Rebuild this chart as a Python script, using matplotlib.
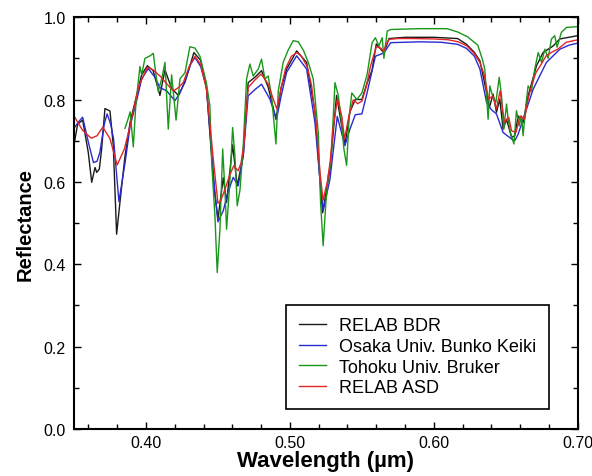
"Reflectance spectra comparison plot"

import matplotlib

matplotlib.use("Agg")
import matplotlib.pyplot as plt
from matplotlib.ticker import MultipleLocator, FormatStrFormatter

#####
# Data
#####

labels = ["RELAB BDR", "Osaka Univ. Bunko Keiki", "Tohoku Univ. Bruker", "RELAB ASD"]
colors = ["#1a1a1a", "#2a2ad0", "#1a961a", "#e02626"]

# RELAB BDR
wl_bdr = [
    0.350, 0.3525, 0.356, 0.3599, 0.3623, 0.3646, 0.3658, 0.3676, 0.3692, 0.3715,
    0.375, 0.3773, 0.3796, 0.3819, 0.3854, 0.389, 0.3935, 0.397, 0.401, 0.405,
    0.4097, 0.4132, 0.4178, 0.4225, 0.4271, 0.4333, 0.438, 0.442, 0.445, 0.4475,
    0.450, 0.4537, 0.456, 0.4602, 0.4634, 0.4676, 0.471, 0.476, 0.4803, 0.4849,
    0.4903, 0.494, 0.4977, 0.5047, 0.5116, 0.5174, 0.5205, 0.5227, 0.5278, 0.5324,
    0.5382, 0.5417, 0.5454, 0.550, 0.5536, 0.557, 0.560, 0.5653, 0.5688, 0.580,
    0.600, 0.6165, 0.6227, 0.628, 0.632, 0.6366, 0.6385, 0.6412, 0.6435, 0.6458,
    0.6481, 0.6505, 0.654, 0.6562, 0.6586, 0.662, 0.6655, 0.6713, 0.6759, 0.6829,
    0.6875, 0.700,
]
r_bdr = [
    0.690, 0.740, 0.750, 0.672, 0.599, 0.635, 0.623, 0.631, 0.680, 0.778,
    0.772, 0.688, 0.473, 0.550, 0.662, 0.745, 0.810, 0.860, 0.882, 0.870,
    0.810, 0.872, 0.827, 0.810, 0.842, 0.914, 0.895, 0.830, 0.690, 0.580,
    0.510, 0.610, 0.550, 0.690, 0.590, 0.664, 0.841, 0.855, 0.870, 0.830,
    0.752, 0.830, 0.874, 0.918, 0.890, 0.770, 0.620, 0.525, 0.630, 0.810,
    0.690, 0.770, 0.800, 0.800, 0.840, 0.870, 0.935, 0.913, 0.948, 0.951,
    0.951, 0.948, 0.934, 0.915, 0.894, 0.817, 0.780, 0.813, 0.769, 0.801,
    0.728, 0.752, 0.708, 0.712, 0.760, 0.744, 0.809, 0.882, 0.914, 0.930,
    0.947, 0.955,
]

# Osaka Univ. Bunko Keiki
wl_osaka = [
    0.350, 0.353, 0.356, 0.360, 0.3635, 0.366, 0.368, 0.371, 0.373, 0.3755,
    0.3775, 0.3812, 0.3855, 0.389, 0.3935, 0.397, 0.4016, 0.406, 0.4097, 0.4144,
    0.4201, 0.4235, 0.4271, 0.431, 0.434, 0.438, 0.442, 0.445, 0.4475, 0.450,
    0.4537, 0.457, 0.4606, 0.4641, 0.4676, 0.471, 0.476, 0.4803, 0.4861, 0.4907,
    0.494, 0.4977, 0.5047, 0.5116, 0.5174, 0.5205, 0.5231, 0.5278, 0.5329, 0.5382,
    0.5417, 0.5454, 0.550, 0.5536, 0.5594, 0.5653, 0.570, 0.590, 0.605, 0.6165,
    0.6227, 0.6282, 0.632, 0.6366, 0.640, 0.6435, 0.6481, 0.654, 0.6562, 0.6585,
    0.662, 0.669, 0.6782, 0.6875, 0.694, 0.700,
]
r_osaka = [
    0.730, 0.745, 0.757, 0.696, 0.647, 0.650, 0.672, 0.740, 0.765, 0.740,
    0.704, 0.552, 0.647, 0.736, 0.797, 0.850, 0.875, 0.855, 0.829, 0.821,
    0.797, 0.815, 0.845, 0.885, 0.902, 0.880, 0.830, 0.700, 0.590, 0.503,
    0.530, 0.575, 0.611, 0.591, 0.664, 0.809, 0.825, 0.837, 0.801, 0.752,
    0.810, 0.866, 0.906, 0.874, 0.744, 0.620, 0.530, 0.606, 0.759, 0.688,
    0.728, 0.763, 0.765, 0.816, 0.905, 0.913, 0.938, 0.940, 0.939, 0.934,
    0.924, 0.905, 0.874, 0.793, 0.775, 0.765, 0.720, 0.704, 0.700, 0.715,
    0.752, 0.825, 0.890, 0.922, 0.932, 0.937,
]

# Tohoku Univ. Bruker
wl_tohoku = [
    0.3854, 0.3875, 0.389, 0.3912, 0.393, 0.3958, 0.397, 0.3993, 0.4028, 0.4051,
    0.4062, 0.4085, 0.4109, 0.4132, 0.4155, 0.4178, 0.4209, 0.4236, 0.4271, 0.4305,
    0.434, 0.4375, 0.442, 0.4444, 0.4456, 0.4479, 0.4495, 0.4514, 0.4533, 0.455,
    0.456, 0.4583, 0.4602, 0.4618, 0.4634, 0.4653, 0.4676, 0.4699, 0.4722, 0.4745,
    0.478, 0.4803, 0.4826, 0.4849, 0.4872, 0.4903, 0.4919, 0.4953, 0.4988, 0.5023,
    0.5058, 0.5093, 0.5128, 0.5162, 0.5197, 0.5213, 0.5231, 0.525, 0.5266, 0.5285,
    0.5313, 0.5336, 0.5359, 0.5375, 0.5394, 0.5412, 0.543, 0.5465, 0.550, 0.5536,
    0.5571, 0.5594, 0.5618, 0.5641, 0.5653, 0.5676, 0.570, 0.590, 0.609, 0.6165,
    0.6235, 0.6305, 0.6335, 0.6354, 0.6377, 0.6389, 0.6407, 0.6431, 0.6454, 0.647,
    0.6486, 0.6505, 0.6516, 0.6532, 0.6556, 0.6574, 0.6593, 0.6609, 0.662, 0.6639,
    0.6655, 0.6678, 0.6701, 0.6725, 0.6748, 0.6771, 0.6794, 0.6817, 0.684, 0.6856,
    0.6886, 0.6921, 0.700,
]
r_tohoku = [
    0.730, 0.752, 0.770, 0.685, 0.790, 0.880, 0.860, 0.900, 0.906, 0.912,
    0.880, 0.820, 0.850, 0.890, 0.728, 0.860, 0.750, 0.850, 0.865, 0.928,
    0.925, 0.905, 0.840, 0.785, 0.650, 0.518, 0.380, 0.485, 0.680, 0.570,
    0.485, 0.600, 0.732, 0.663, 0.542, 0.580, 0.690, 0.850, 0.886, 0.857,
    0.874, 0.898, 0.850, 0.857, 0.810, 0.692, 0.820, 0.890, 0.920, 0.943,
    0.940, 0.920, 0.890, 0.850, 0.720, 0.550, 0.445, 0.550, 0.615, 0.647,
    0.841, 0.810, 0.745, 0.680, 0.640, 0.760, 0.816, 0.800, 0.816, 0.860,
    0.938, 0.950, 0.930, 0.950, 0.900, 0.966, 0.970, 0.972, 0.972, 0.964,
    0.952, 0.932, 0.900, 0.874, 0.752, 0.833, 0.810, 0.793, 0.854, 0.810,
    0.728, 0.789, 0.752, 0.720, 0.692, 0.773, 0.736, 0.760, 0.712, 0.785,
    0.833, 0.820, 0.874, 0.914, 0.890, 0.922, 0.900, 0.947, 0.955, 0.927,
    0.963, 0.975, 0.977,
]

# RELAB ASD
wl_asd = [
    0.350, 0.356, 0.362, 0.366, 0.370, 0.375, 0.380, 0.385, 0.389, 0.395,
    0.401, 0.405, 0.410, 0.415, 0.419, 0.423, 0.426, 0.430, 0.434, 0.438,
    0.442, 0.445, 0.447, 0.450, 0.452, 0.455, 0.458, 0.461, 0.464, 0.466,
    0.468, 0.471, 0.475, 0.480, 0.485, 0.488, 0.491, 0.494, 0.497, 0.501,
    0.505, 0.508, 0.512, 0.515, 0.518, 0.521, 0.523, 0.526, 0.528, 0.530,
    0.533, 0.536, 0.538, 0.541, 0.544, 0.547, 0.550, 0.553, 0.556, 0.558,
    0.560, 0.563, 0.565, 0.567, 0.569, 0.575, 0.585, 0.600, 0.610, 0.617,
    0.623, 0.628, 0.632, 0.635, 0.638, 0.641, 0.6435, 0.646, 0.649, 0.652,
    0.654, 0.657, 0.660, 0.663, 0.6655, 0.668, 0.671, 0.675, 0.678, 0.682,
    0.686, 0.692, 0.700,
]
r_asd = [
    0.760, 0.725, 0.706, 0.712, 0.733, 0.705, 0.641, 0.680, 0.736, 0.833,
    0.878, 0.872, 0.856, 0.836, 0.821, 0.830, 0.842, 0.880, 0.905, 0.885,
    0.825, 0.720, 0.647, 0.548, 0.555, 0.583, 0.615, 0.639, 0.627, 0.645,
    0.690, 0.829, 0.845, 0.862, 0.837, 0.805, 0.777, 0.830, 0.875, 0.905,
    0.914, 0.905, 0.880, 0.835, 0.750, 0.620, 0.555, 0.600, 0.650, 0.730,
    0.802, 0.760, 0.704, 0.760, 0.799, 0.790, 0.796, 0.830, 0.881, 0.905,
    0.928, 0.925, 0.917, 0.935, 0.946, 0.948, 0.948, 0.947, 0.945, 0.940,
    0.930, 0.912, 0.890, 0.860, 0.801, 0.809, 0.777, 0.821, 0.744, 0.757,
    0.724, 0.720, 0.760, 0.752, 0.801, 0.835, 0.866, 0.888, 0.906, 0.915,
    0.922, 0.939, 0.945,
]

#####
# Plot
#####

plt.rcParams["font.family"] = ["Liberation Sans", "DejaVu Sans"]

fig = plt.figure(figsize=(5.92, 4.77), dpi=100)
ax = fig.add_axes([0.125, 0.0985, 0.851, 0.8635])

series = [(wl_bdr, r_bdr), (wl_osaka, r_osaka), (wl_tohoku, r_tohoku), (wl_asd, r_asd)]
for (wl, r), label, color in zip(series, labels, colors):
    ax.plot(wl, r, color=color, lw=1.0, label=label)

ax.set_xlim(0.35, 0.70)
ax.set_ylim(0.0, 1.0)
ax.xaxis.set_major_locator(MultipleLocator(0.1))
ax.xaxis.set_minor_locator(MultipleLocator(0.02))
ax.yaxis.set_major_locator(MultipleLocator(0.2))
ax.yaxis.set_minor_locator(MultipleLocator(0.1))
ax.xaxis.set_major_formatter(FormatStrFormatter("%.2f"))
ax.yaxis.set_major_formatter(FormatStrFormatter("%.1f"))

ax.tick_params(which="both", direction="in", top=True, right=True, width=1.0)
ax.tick_params(which="major", length=5, labelsize=11.5)
ax.tick_params(which="minor", length=3.5)
ax.tick_params(axis="x", pad=4)
ax.tick_params(axis="y", pad=6)
for spine in ax.spines.values():
    spine.set_linewidth(1.5)

ax.set_xlabel("Wavelength (\u00b5m)", fontsize=16, fontweight="bold", labelpad=0)
ax.set_ylabel("Reflectance", fontsize=14.5, fontweight="bold", labelpad=6)

leg = ax.legend(
    loc="lower right",
    bbox_to_anchor=(0.942, 0.049),
    borderaxespad=0,
    fontsize=13,
    handlelength=1.5,
    handletextpad=0.7,
    labelspacing=0.2,
    borderpad=0.7,
    fancybox=False,
    framealpha=1,
)
leg.get_frame().set_edgecolor("black")
leg.get_frame().set_linewidth(1.2)

fig.savefig("out.png", dpi=100)
